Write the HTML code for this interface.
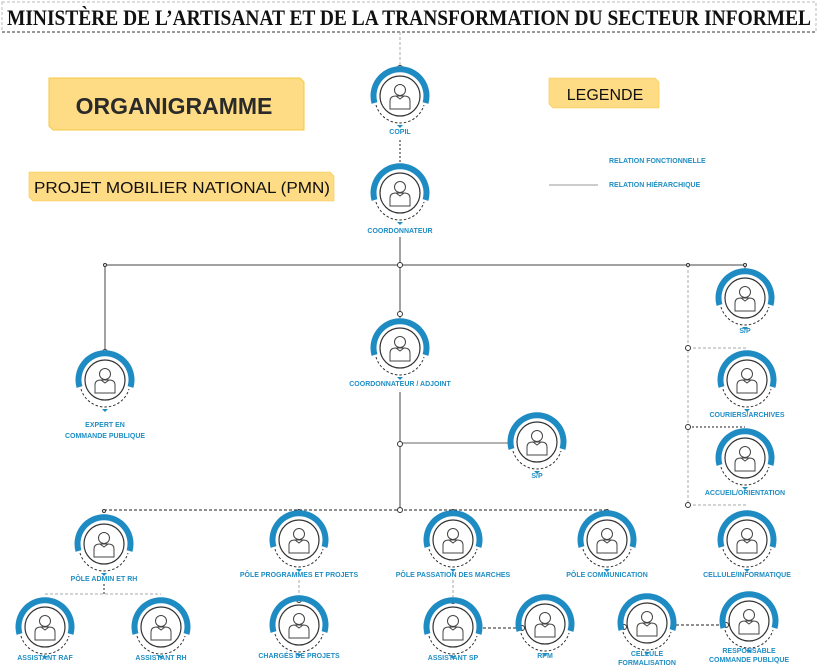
<!DOCTYPE html>
<html><head><meta charset="utf-8">
<style>
html,body{margin:0;padding:0;background:#fff;}
svg{display:block;}
.lb{font-family:"Liberation Sans",sans-serif;font-size:7px;fill:#1f8ec4;text-anchor:middle;font-weight:bold;}
</style></head><body>
<svg width="818" height="669" viewBox="0 0 818 669" xmlns="http://www.w3.org/2000/svg">
<defs>
<g id="nd">
  <path d="M-25.5,7 A26.5,26.5 0 1 1 25.5,7" fill="none" stroke="#1e8bc3" stroke-width="6"/>
  <path d="M-24,9 A25,25 0 0 0 24,9" fill="none" stroke="#333" stroke-width="1" stroke-dasharray="2.5,2"/>
  <circle r="20" fill="#fff" stroke="#333" stroke-width="1.2"/>
  <circle cx="0" cy="-6" r="5.5" fill="none" stroke="#444" stroke-width="1"/>
  <path d="M-10,13 L-10,5 Q-10,0 -4,0 L4,0 Q10,0 10,5 L10,13 Z M-4,0 L0,3 L4,0" fill="none" stroke="#444" stroke-width="1"/>
  <path d="M-3,29 L3,29 L0,32 Z" fill="#1e8bc3"/>
</g>
</defs>

<!-- title -->
<rect x="2" y="2" width="814" height="30" fill="#fff" stroke="#bbb" stroke-dasharray="3,2"/>
<line x1="2" y1="32" x2="816" y2="32" stroke="#333" stroke-dasharray="3,2"/>
<text x="409" y="25" text-anchor="middle" font-family="'Liberation Serif',serif" font-weight="bold" font-size="22" textLength="804" lengthAdjust="spacingAndGlyphs" fill="#111">MINISTÈRE DE L’ARTISANAT ET DE LA TRANSFORMATION DU SECTEUR INFORMEL</text>

<!-- banners -->
<path d="M49,78 L300,78 L304,82 L304,130 L53,130 L49,126 Z" fill="#fedb85" stroke="#f5c842"/>
<text x="174" y="114" text-anchor="middle" font-family="'Liberation Sans',sans-serif" font-weight="bold" font-size="23" fill="#2a2a2a">ORGANIGRAMME</text>
<path d="M29,172 L330,172 L334,176 L334,201 L33,201 L29,197 Z" fill="#fedb85" stroke="#f5c842" stroke-width="0.6"/>
<text x="182" y="193" text-anchor="middle" font-family="'Liberation Sans',sans-serif" font-size="16" fill="#111" textLength="296" lengthAdjust="spacingAndGlyphs">PROJET MOBILIER NATIONAL (PMN)</text>
<path d="M549,78 L655,78 L659,82 L659,108 L553,108 L549,104 Z" fill="#fedb85" stroke="#f5c842" stroke-width="0.6"/>
<text x="605" y="100" text-anchor="middle" font-family="'Liberation Sans',sans-serif" font-size="16" fill="#111">LEGENDE</text>
<text x="609" y="163" class="lb" style="text-anchor:start">RELATION FONCTIONNELLE</text>
<line x1="549" y1="185" x2="598" y2="185" stroke="#999"/>
<text x="609" y="187" class="lb" style="text-anchor:start">RELATION HIÉRARCHIQUE</text>

<!-- connectors -->
<g fill="none">
<line x1="400" y1="32" x2="400" y2="68" stroke="#aaa" stroke-dasharray="3,2"/>
<line x1="400" y1="140" x2="400" y2="165" stroke="#222" stroke-dasharray="2,2"/>
<line x1="400" y1="237" x2="400" y2="265" stroke="#444"/>
<line x1="105" y1="265" x2="745" y2="265" stroke="#444"/>
<line x1="105" y1="265" x2="105" y2="350" stroke="#444"/>
<line x1="400" y1="265" x2="400" y2="318" stroke="#444"/>
<line x1="745" y1="265" x2="745" y2="272" stroke="#444"/>
<line x1="688" y1="265" x2="688" y2="505" stroke="#aaa" stroke-dasharray="3,2"/>
<line x1="688" y1="348" x2="747" y2="348" stroke="#aaa" stroke-dasharray="3,2"/>
<line x1="688" y1="427" x2="745" y2="427" stroke="#222" stroke-dasharray="2,2"/>
<line x1="688" y1="505" x2="747" y2="505" stroke="#aaa" stroke-dasharray="3,2"/>
<line x1="400" y1="392" x2="400" y2="510" stroke="#444"/>
<line x1="400" y1="443" x2="511" y2="443" stroke="#666"/>
<line x1="104" y1="510" x2="607" y2="510" stroke="#222" stroke-dasharray="3,2"/>
<line x1="104" y1="510" x2="104" y2="518" stroke="#aaa" stroke-dasharray="2,2"/>
<line x1="104" y1="584" x2="104" y2="594" stroke="#222" stroke-dasharray="2,2"/>
<line x1="45" y1="594" x2="161" y2="594" stroke="#aaa" stroke-dasharray="3,2"/>
<line x1="299" y1="580" x2="299" y2="600" stroke="#aaa" stroke-dasharray="3,2"/>
<line x1="453" y1="580" x2="453" y2="602" stroke="#aaa" stroke-dasharray="3,2"/>
<line x1="478" y1="628" x2="521" y2="628" stroke="#222" stroke-dasharray="3,2"/>
<line x1="671" y1="625" x2="725" y2="625" stroke="#222" stroke-dasharray="3,2"/>
</g>
<g fill="#fff" stroke="#333" stroke-width="1">
<circle cx="400" cy="68" r="2.5"/><circle cx="400" cy="265" r="2.5"/>
<circle cx="105" cy="265" r="1.5"/><circle cx="688" cy="265" r="1.5"/><circle cx="745" cy="265" r="1.5"/>
<circle cx="105" cy="352" r="2.5"/><circle cx="400" cy="314" r="2.5"/>
<circle cx="688" cy="348" r="2.5"/><circle cx="688" cy="427" r="2.5"/><circle cx="688" cy="505" r="2.5"/>
<circle cx="400" cy="444" r="2.5"/><circle cx="400" cy="510" r="2.5"/>
<circle cx="104" cy="511" r="1.5"/><circle cx="299" cy="511" r="1.5"/><circle cx="453" cy="511" r="1.5"/><circle cx="607" cy="511" r="1.5"/>
<circle cx="299" cy="600" r="2.5"/><circle cx="453" cy="601" r="2.5"/>
<circle cx="522" cy="628" r="2.5"/><circle cx="624" cy="627" r="2.5"/><circle cx="726" cy="625" r="2.5"/>
</g>

<!-- nodes -->
<use href="#nd" x="400" y="96"/><text class="lb" x="400" y="134">COPIL</text>
<use href="#nd" x="400" y="193"/><text class="lb" x="400" y="233">COORDONNATEUR</text>
<use href="#nd" x="745" y="298"/><text class="lb" x="745" y="333">S/P</text>
<use href="#nd" x="400" y="348"/><text class="lb" x="400" y="386">COORDONNATEUR / ADJOINT</text>
<use href="#nd" x="105" y="380"/><text class="lb" x="105" y="427">EXPERT EN</text><text class="lb" x="105" y="438">COMMANDE PUBLIQUE</text>
<use href="#nd" x="537" y="442"/><text class="lb" x="537" y="478">S/P</text>
<use href="#nd" x="747" y="380"/><text class="lb" x="747" y="417">COURIERS/ARCHIVES</text>
<use href="#nd" x="745" y="458"/><text class="lb" x="745" y="495">ACCUEIL/ORIENTATION</text>
<use href="#nd" x="104" y="544"/><text class="lb" x="104" y="581">PÔLE ADMIN ET RH</text>
<use href="#nd" x="299" y="540"/><text class="lb" x="299" y="577">PÔLE PROGRAMMES ET PROJETS</text>
<use href="#nd" x="453" y="540"/><text class="lb" x="453" y="577">PÔLE PASSATION DES MARCHES</text>
<use href="#nd" x="607" y="540"/><text class="lb" x="607" y="577">PÔLE COMMUNICATION</text>
<use href="#nd" x="747" y="540"/><text class="lb" x="747" y="577">CELLULE/INFORMATIQUE</text>
<use href="#nd" x="45" y="627"/><text class="lb" x="45" y="660">ASSISTANT RAF</text>
<use href="#nd" x="161" y="627"/><text class="lb" x="161" y="660">ASSISTANT RH</text>
<use href="#nd" x="299" y="625"/><text class="lb" x="299" y="658">CHARGÉS DE PROJETS</text>
<use href="#nd" x="453" y="627"/><text class="lb" x="453" y="660">ASSISTANT SP</text>
<use href="#nd" x="545" y="624"/><text class="lb" x="545" y="658">RPM</text>
<use href="#nd" x="647" y="623"/><text class="lb" x="647" y="656">CELLULE</text><text class="lb" x="647" y="665">FORMALISATION</text>
<use href="#nd" x="749" y="621"/><text class="lb" x="749" y="653">RESPONSABLE</text><text class="lb" x="749" y="662">COMMANDE PUBLIQUE</text>
</svg>
</body></html>
